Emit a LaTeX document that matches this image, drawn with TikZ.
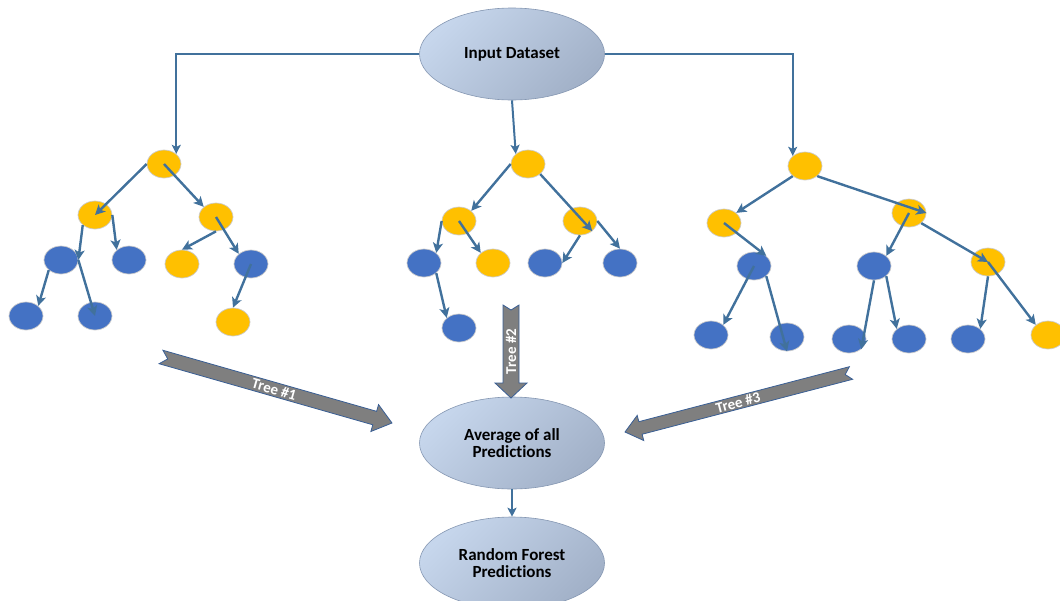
\documentclass[tikz,border=0pt]{standalone}
\usepackage{fontspec}
\setmainfont{Carlito}[Ligatures=NoCommon]
\usetikzlibrary{shapes.geometric,arrows.meta,calc}
\definecolor{yel}{HTML}{FFC000}
\definecolor{blu}{HTML}{4472C4}
\definecolor{arr}{HTML}{41719C}
\definecolor{ellA}{HTML}{C6D6EC}
\definecolor{ellB}{HTML}{A2B1C8}
\definecolor{ellD}{HTML}{8597B2}
\definecolor{fatfill}{HTML}{7F7F7F}
\definecolor{fatdraw}{HTML}{3A5F95}
\newcommand\fatarrow[6]{%
  \coordinate (#1H) at ($(#2)!#5!(#1)$);
  \draw[fatarr] ($(#1)!#3!90:(#2)$) -- ($(#1H)!#3!-90:(#1)$) -- ($(#1H)!#4!-90:(#1)$) -- (#2)
     -- ($(#1H)!#4!90:(#1)$) -- ($(#1H)!#3!90:(#1)$) -- ($(#1)!#3!-90:(#2)$) -- ($(#1)!#6!(#2)$) -- cycle;}
\begin{document}
\begin{tikzpicture}[x=1pt,y=-1pt,
  leaf/.style={ellipse, minimum width=34pt, minimum height=28pt, inner sep=0pt, draw=white!80!black, line width=0.7pt},
  yn/.style={leaf, fill=yel},
  bn/.style={leaf, fill=blu},
  link/.style={draw=arr, line width=2.4pt, -{Stealth[length=10pt,width=10pt,inset=2.5pt]}},
  feed/.style={draw=arr, line width=2pt, -{Stealth[length=9pt,width=9pt,inset=2pt]}},
  big/.style={ellipse, draw=ellD, line width=0.6pt, top color=ellA, bottom color=ellB, shading angle=45,
    minimum width=185pt, minimum height=92pt, inner sep=0pt, align=center,
    font=\fontsize{17}{17.5}\selectfont\bfseries},
  fatarr/.style={fill=fatfill, draw=fatdraw, line width=0.8pt, line join=miter},
  fatlab/.style={text=white, inner sep=0pt, font=\fontsize{15}{15}\selectfont\bfseries}]
\clip (0,0) rectangle (1060,600);

% main ellipses
\node[big] (In) at (512,54) {Input Dataset};
\node[big] (Avg) at (512,443) {Average of all\\Predictions};
\node[big] (RF) at (512,563) {Random Forest\\Predictions};

% tree 1
\node[yn] (Aa) at (164,164) {};
\node[yn] (Ab) at (95,215) {};
\node[yn] (Ac) at (216,217) {};
\node[bn] (Ad) at (61,260) {};
\node[bn] (Ae) at (129,260) {};
\node[yn] (Af) at (182,264) {};
\node[bn] (Ag) at (251,264) {};
\node[bn] (Ah) at (26,316) {};
\node[bn] (Ai) at (95,316) {};
\node[yn] (Aj) at (233,322) {};

% tree 2
\node[yn] (Ba) at (528,164) {};
\node[yn] (Bb) at (459,221) {};
\node[yn] (Bc) at (580,221) {};
\node[bn] (Bd) at (424,263) {};
\node[yn] (Be) at (493,263) {};
\node[bn] (Bf) at (545,263) {};
\node[bn] (Bg) at (620,263) {};
\node[bn] (Bh) at (459,328) {};

% tree 3
\node[yn] (Ca) at (805,166) {};
\node[yn] (Cb) at (724,223) {};
\node[yn] (Cc) at (909,213) {};
\node[bn] (Cd) at (754,266) {};
\node[bn] (Ce) at (874,266) {};
\node[yn] (Cf) at (988,262) {};
\node[bn] (Cg) at (711,335) {};
\node[bn] (Ch) at (787,337) {};
\node[bn] (Ci) at (849,339) {};
\node[bn] (Cj) at (909,339) {};
\node[bn] (Ck) at (968,339) {};
\node[yn] (Cl) at (1048,335) {};

% feeds from input
\draw[feed] (In.west) -| (Aa.north east);
\draw[feed] (In.south) -- (Ba.north west);
\draw[feed] (In.east) -| (Ca.north west);
\draw[feed] (Avg.south) -- (RF.north);

% tree 1 links
\draw[link] (Aa.west) -- (Ab.center);
\draw[link] (Aa.center) -- (Ac.north west);
\draw[link] (Ab.south west) -- (Ad.east);
\draw[link] (Ab.east) -- (Ae.north west);
\draw[link] (Ac.south) -- (Af.north);
\draw[link] (Ac.center) -- (Ag.north west);
\draw[link] (Ad.south west) -- (Ah.north east);
\draw[link] (Ad.east) -- (Ai.center);
\draw[link] (Ag.center) -- (Aj.north);

% tree 2 links
\draw[link] (Ba.west) -- (Bb.north east);
\draw[link] (Ba.south east) -- (Bc.south east);
\draw[link] (Bb.west) -- (Bd.north east);
\draw[link] (Bb.center) -- (Be.north west);
\draw[link] (Bc.south) -- (Bf.east);
\draw[link] (Bc.east) -- (Bg.north);
\draw[link] (Bd.south east) -- (Bh.north west);

% tree 3 links
\draw[link] (Ca.south west) -- (Cb.north east);
\draw[link] (Ca.south east) -- (Cc.east);
\draw[link] (Cb.center) -- (Cd.north east);
\draw[link] (Cc.center) -- (Ce.north east);
\draw[link] (Cc.south east) -- (Cf.center);
\draw[link] (Cd.center) -- (Cg.north east);
\draw[link] (Cd.south east) -- (Ch.south);
\draw[link] (Ce.south) -- (Ci.south east);
\draw[link] (Ce.south east) -- (Cj.north west);
\draw[link] (Cf.south) -- (Ck.north east);
\draw[link] (Cf.center) -- (Cl.north west);

% big gray arrows
\coordinate (T1s) at (161,357);
\coordinate (T1e) at (392,423);
\coordinate (T2s) at (511,305);
\coordinate (T2e) at (511,398);
\coordinate (T3s) at (851,373);
\coordinate (T3e) at (625,432);
\fatarrow{T1s}{T1e}{7pt}{14pt}{18pt}{7pt}
\fatarrow{T2s}{T2e}{8pt}{16pt}{15pt}{5pt}
\fatarrow{T3s}{T3e}{6.5pt}{13pt}{16pt}{6pt}
\node[fatlab, rotate=-16] (L1) at ($(T1s)!0.49!(T1e)$) {Tree \#1};
\node[fatlab, rotate=90] (L2) at ($(T2s)!0.5!(T2e)$) {Tree \#2};
\node[fatlab, rotate=14.6] (L3) at ($(T3s)!0.5!(T3e)$) {Tree \#3};
\end{tikzpicture}
\end{document}
